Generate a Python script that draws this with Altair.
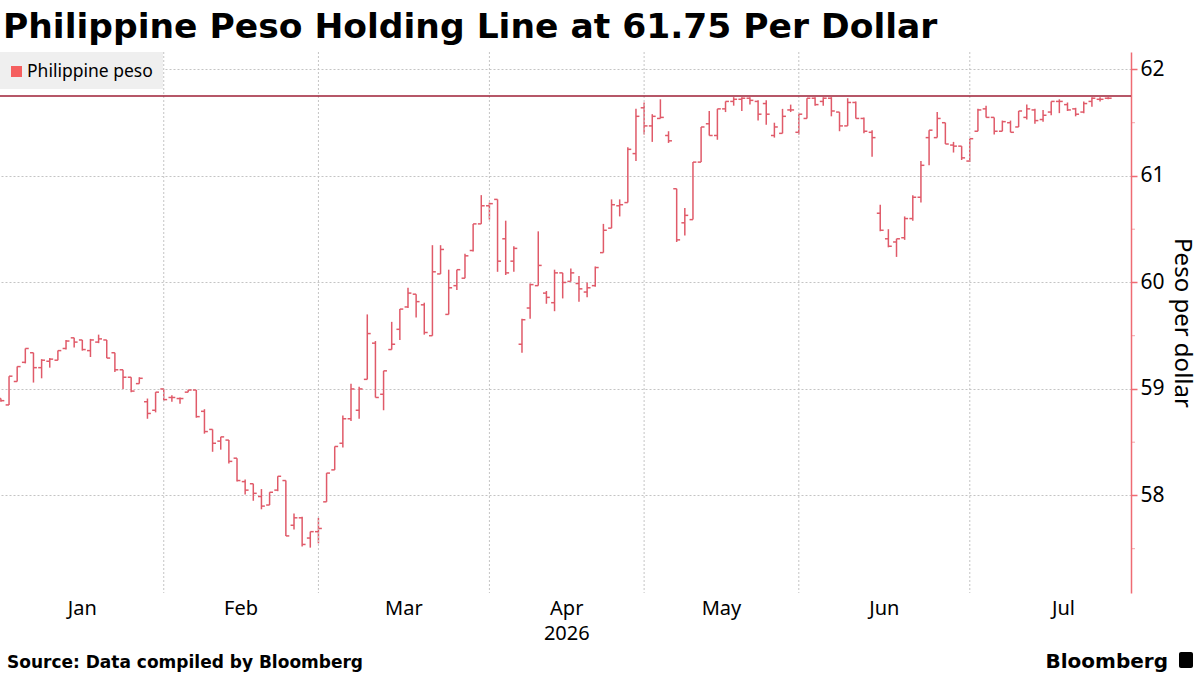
import altair as alt
import pandas as pd

# ---------------- data ----------------
holidays = ["2026-02-17", "2026-03-20", "2026-04-02", "2026-04-03", "2026-04-09",
            "2026-05-01", "2026-05-27", "2026-06-12"]
dates = [d.strftime("%Y-%m-%d") for d in pd.bdate_range("2026-01-05", "2026-07-24")
         if d.strftime("%Y-%m-%d") not in holidays]

open_ = [58.91, 58.85, 59.07, 59.25, 59.34, 59.20, 59.26, 59.27, 59.38, 59.48,
         59.46, 59.36, 59.44, 59.46, 59.34, 59.18, 59.11, 59.05, 58.88, 58.80,
         59.00, 58.92, 58.91, 58.97, 58.99, 58.79, 58.62, 58.51, 58.52, 58.35,
         58.13, 58.11, 57.99, 57.91, 58.05, 58.14, 57.72, 57.79, 57.60, 57.66,
         57.94, 58.24, 58.49, 58.72, 58.80, 59.09, 59.43, 58.95, 59.37, 59.56,
         59.77, 59.89, 59.79, 59.50, 60.08, 59.70, 59.97, 60.04, 60.30, 60.55,
         60.72, 60.78, 60.41, 60.20, 59.42, 59.76, 59.97, 59.90, 59.81, 60.09,
         60.01, 59.99, 59.91, 59.97, 60.28, 60.51, 60.72, 60.75, 61.21, 61.64,
         61.47, 61.54, 61.38, 60.88, 60.56, 60.59, 61.13, 61.49, 61.38, 61.63,
         61.70, 61.72, 61.73, 61.70, 61.68, 61.38, 61.40, 61.62, 61.41, 61.54,
         61.73, 61.70, 61.73, 61.60, 61.47, 61.69, 61.54, 61.41, 60.65, 60.41,
         60.38, 60.42, 60.60, 60.80, 61.36, 61.36, 61.50, 61.29, 61.28, 61.14,
         61.42, 61.63, 61.55, 61.42, 61.50, 61.46, 61.55, 61.62, 61.53, 61.60,
         61.70, 61.67, 61.63, 61.60, 61.70, 61.72, 61.73]
high = [58.91, 59.12, 59.21, 59.38, 59.34, 59.28, 59.29, 59.36, 59.46, 59.48,
        59.46, 59.47, 59.51, 59.46, 59.34, 59.18, 59.11, 59.11, 58.91, 58.97,
        59.00, 58.94, 58.92, 58.99, 58.99, 58.81, 58.62, 58.55, 58.52, 58.35,
        58.15, 58.11, 58.06, 58.03, 58.18, 58.14, 57.83, 57.80, 57.66, 57.79,
        58.21, 58.46, 58.75, 59.05, 59.02, 59.70, 59.45, 59.17, 59.63, 59.75,
        59.95, 59.89, 59.81, 60.35, 60.35, 60.12, 60.12, 60.27, 60.55, 60.82,
        60.75, 60.78, 60.58, 60.34, 59.66, 59.99, 60.48, 59.92, 60.12, 60.09,
        60.13, 60.06, 60.00, 60.15, 60.55, 60.78, 60.78, 61.27, 61.63, 61.69,
        61.58, 61.72, 61.42, 60.88, 60.70, 61.13, 61.46, 61.61, 61.63, 61.70,
        61.74, 61.74, 61.74, 61.71, 61.71, 61.50, 61.63, 61.67, 61.58, 61.73,
        61.74, 61.74, 61.74, 61.60, 61.73, 61.70, 61.55, 61.43, 60.73, 60.50,
        60.41, 60.62, 60.82, 61.14, 61.43, 61.60, 61.50, 61.32, 61.28, 61.35,
        61.63, 61.66, 61.55, 61.52, 61.52, 61.61, 61.67, 61.63, 61.62, 61.70,
        61.72, 61.69, 61.64, 61.70, 61.74, 61.74, 61.74]
low = [58.88, 58.85, 59.07, 59.24, 59.06, 59.10, 59.20, 59.27, 59.37, 59.39,
       59.36, 59.30, 59.43, 59.29, 59.16, 59.00, 58.97, 59.05, 58.72, 58.78,
       58.89, 58.88, 58.86, 58.97, 58.73, 58.58, 58.41, 58.43, 58.30, 58.13,
       58.01, 57.95, 57.87, 57.91, 58.04, 57.62, 57.68, 57.52, 57.51, 57.55,
       57.94, 58.24, 58.45, 58.70, 58.72, 59.09, 58.92, 58.80, 59.37, 59.46,
       59.76, 59.67, 59.51, 59.50, 60.08, 59.70, 59.93, 60.04, 60.29, 60.55,
       60.59, 60.10, 60.07, 60.10, 59.34, 59.66, 59.97, 59.80, 59.73, 59.85,
       60.01, 59.82, 59.86, 59.96, 60.28, 60.51, 60.62, 60.75, 61.14, 61.39,
       61.32, 61.54, 61.31, 60.38, 60.44, 60.59, 61.13, 61.38, 61.34, 61.60,
       61.66, 61.61, 61.67, 61.52, 61.48, 61.36, 61.40, 61.60, 61.39, 61.54,
       61.66, 61.66, 61.56, 61.42, 61.47, 61.54, 61.40, 61.18, 60.48, 60.33,
       60.24, 60.40, 60.58, 60.75, 61.10, 61.36, 61.30, 61.22, 61.15, 61.13,
       61.42, 61.55, 61.39, 61.42, 61.41, 61.46, 61.53, 61.49, 61.51, 61.57,
       61.59, 61.61, 61.56, 61.59, 61.65, 61.70, 61.72]
close = [58.89, 59.12, 59.21, 59.38, 59.20, 59.27, 59.28, 59.36, 59.45, 59.44,
         59.37, 59.46, 59.47, 59.29, 59.18, 59.11, 58.98, 59.10, 58.77, 58.97,
         58.90, 58.92, 58.91, 58.99, 58.74, 58.60, 58.49, 58.55, 58.32, 58.14,
         58.05, 58.02, 57.90, 58.03, 58.18, 57.62, 57.79, 57.54, 57.66, 57.69,
         58.21, 58.46, 58.72, 59.00, 59.00, 59.52, 58.92, 59.17, 59.42, 59.75,
         59.90, 59.82, 59.53, 60.10, 60.31, 59.95, 60.12, 60.25, 60.55, 60.72,
         60.74, 60.20, 60.09, 60.32, 59.65, 59.98, 60.16, 59.86, 60.09, 60.00,
         60.09, 59.94, 59.95, 60.14, 60.49, 60.73, 60.73, 61.25, 61.56, 61.47,
         61.56, 61.55, 61.33, 60.40, 60.63, 61.13, 61.46, 61.38, 61.63, 61.70,
         61.72, 61.73, 61.71, 61.58, 61.58, 61.46, 61.56, 61.62, 61.58, 61.73,
         61.67, 61.73, 61.61, 61.47, 61.69, 61.54, 61.42, 61.36, 60.49, 60.34,
         60.41, 60.60, 60.80, 61.10, 61.43, 61.54, 61.30, 61.28, 61.17, 61.35,
         61.62, 61.55, 61.42, 61.51, 61.41, 61.61, 61.63, 61.52, 61.57, 61.70,
         61.70, 61.62, 61.58, 61.68, 61.73, 61.72, 61.73]

level = 61.75
y_ticks = [58, 59, 60, 61, 62]
y_minor = [57.5, 58.5, 59.5, 60.5, 61.5]
month_names = ["Jan", "Feb", "Mar", "Apr", "May", "Jun", "Jul"]
july_weekdays = 23

# ---------------- styling ----------------
W, H = 1131, 541
BAR = "#e05a69"
AXIS_RED = "#ef6b73"
LEVEL = "#9e1f36"
GRID = "#c4c4c4"
FONT = "Noto Sans"
BOLD = "DejaVu Sans"

df = pd.DataFrame({"date": dates, "open": open_, "high": high, "low": low, "close": close})
df["i"] = range(len(df))
df["month"] = pd.to_datetime(df["date"]).dt.month

starts = df.groupby("month")["i"].min().tolist()
ends = starts[1:] + [starts[-1] + july_weekdays]
months = pd.DataFrame({"name": month_names, "start": starts, "mid": [(a + b) / 2 for a, b in zip(starts, ends)]})

xs = alt.Scale(domain=[-0.11, 138.8], nice=False, zero=False)
ys = alt.Scale(domain=[57.084, 62.164], nice=False, zero=False)

base = alt.Chart(df)

hl = base.mark_rule(color=BAR, strokeWidth=1.5).encode(
    x=alt.X("i:Q", scale=xs, axis=None),
    y=alt.Y("low:Q", scale=ys, axis=alt.Axis(
        orient="right", values=y_ticks, format=".0f", grid=True, gridDash=[2, 2], gridColor=GRID,
        domainColor=AXIS_RED, domainWidth=1.5, tickColor=AXIS_RED, tickSize=6, tickWidth=1.5,
        labelFont=FONT, labelFontSize=21, labelColor="#000000", labelPadding=3,
        title="Peso per dollar", titleAngle=90, titleFont=FONT, titleFontSize=24,
        titleFontWeight="normal", titleColor="#000000", titlePadding=5)),
    y2="high:Q",
)
op = base.transform_calculate(xl="datum.i - 0.42").mark_rule(color=BAR, strokeWidth=1.5).encode(
    x=alt.X("xl:Q", scale=xs), x2="i:Q", y=alt.Y("open:Q", scale=ys))
cl = base.transform_calculate(xr="datum.i + 0.42").mark_rule(color=BAR, strokeWidth=1.5).encode(
    x=alt.X("i:Q", scale=xs), x2="xr:Q", y=alt.Y("close:Q", scale=ys))

vgrid = alt.Chart(months[months["start"] > 0]).mark_rule(
    color=GRID, strokeDash=[2, 2], strokeWidth=1).encode(
    x=alt.X("start:Q", scale=xs), y=alt.value(0), y2=alt.value(H))

lvl = alt.Chart(pd.DataFrame({"v": [level]})).mark_rule(color=LEVEL, strokeWidth=1.5).encode(
    y=alt.Y("v:Q", scale=ys), x=alt.value(0), x2=alt.value(W))

minor = alt.Chart(pd.DataFrame({"v": y_minor})).mark_rule(color=AXIS_RED, strokeWidth=1, opacity=0.6).encode(
    y=alt.Y("v:Q", scale=ys), x=alt.value(W), x2=alt.value(W + 4))

mlabels = alt.Chart(months).mark_text(font=FONT, fontSize=20, baseline="middle", color="#000000").encode(
    x=alt.X("mid:Q", scale=xs), y=alt.value(H + 16), text="name:N")
year = alt.Chart(months[months["name"] == "Apr"]).mark_text(
    font=FONT, fontSize=20, baseline="middle", color="#000000").encode(
    x=alt.X("mid:Q", scale=xs), y=alt.value(H + 41), text=alt.value("2026"))

one = pd.DataFrame({"a": [0]})
leg_box = alt.Chart(one).mark_rect(color="#efefef").encode(
    x=alt.value(0), x2=alt.value(163), y=alt.value(0), y2=alt.value(37))
leg_sq = alt.Chart(one).mark_rect(color="#f55f5f").encode(
    x=alt.value(11), x2=alt.value(22), y=alt.value(14), y2=alt.value(25))
leg_tx = alt.Chart(one).mark_text(font=FONT, fontSize=17.5, align="left", baseline="middle", color="#000000").encode(
    x=alt.value(27), y=alt.value(19.5), text=alt.value("Philippine peso"))

title = alt.Chart(one).mark_text(font=BOLD, fontWeight="bold", fontSize=34.5, align="left",
                                 baseline="alphabetic", color="#000000").encode(
    x=alt.value(3), y=alt.value(-14), text=alt.value("Philippine Peso Holding Line at 61.75 Per Dollar"))
source = alt.Chart(one).mark_text(font=BOLD, fontWeight="bold", fontSize=17, align="left",
                                  baseline="alphabetic", color="#000000").encode(
    x=alt.value(7), y=alt.value(616), text=alt.value("Source: Data compiled by Bloomberg"))
brand = alt.Chart(one).mark_text(font=BOLD, fontWeight="bold", fontSize=20, align="right",
                                 baseline="alphabetic", color="#000000").encode(
    x=alt.value(1168), y=alt.value(616), text=alt.value("Bloomberg"))
icon = alt.Chart(one).mark_rect(color="#000000", cornerRadius=2).encode(
    x=alt.value(1179), x2=alt.value(1193), y=alt.value(600), y2=alt.value(616))

chart = alt.layer(
    hl, vgrid, lvl, op, cl, minor, leg_box, leg_sq, leg_tx, mlabels, year, title, source, brand, icon
).properties(
    width=W, height=H,
    autosize=alt.AutoSizeParams(type="none"),
    padding={"left": 0, "top": 52, "right": 69, "bottom": 82},
    background="#ffffff",
).configure_view(stroke=None)

chart.save("out.html", embed_options={"renderer": "svg", "actions": False})
